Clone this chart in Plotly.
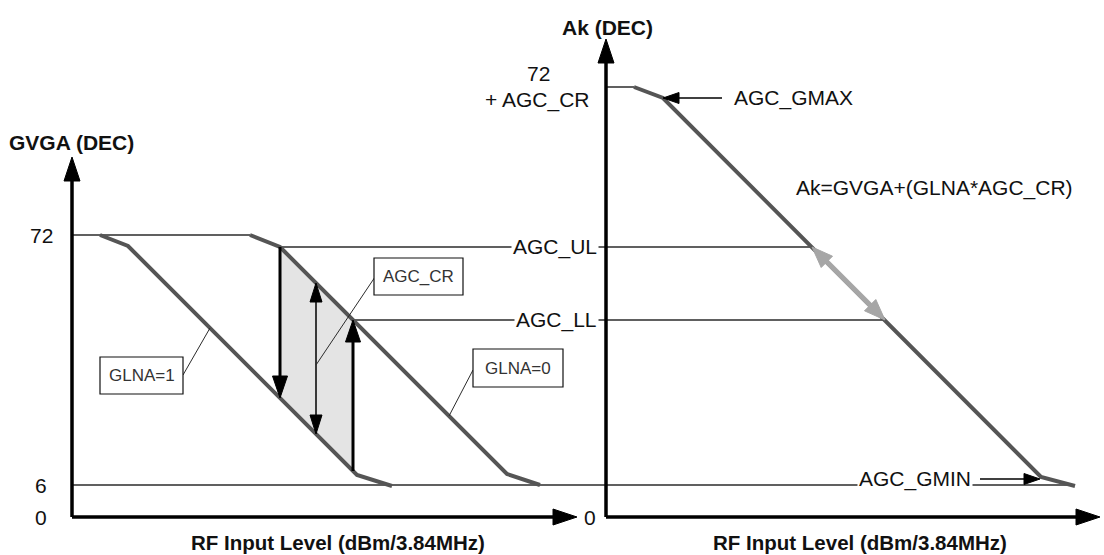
import math
import plotly.graph_objects as go

# --- chart data (schematic units, origin = left axes corner, 1 unit = 1 px) ---
GVGA_TICK_POS = [0, 32, 282]
GVGA_TICK_TEXT = ["0", "6", "72"]

# GVGA vs RF level, two LNA states
GLNA1_X = [28, 56, 285, 320]
GLNA1_Y = [282, 271, 42, 31]
GLNA0_X = [178, 208, 435, 468]
GLNA0_Y = [282, 270, 43, 32]

# Ak vs RF level (right panel)
AK_X = [562, 591, 969, 1003]
AK_Y = [430, 419, 40, 31]

# threshold levels
LEVEL_72 = 282
LEVEL_6 = 32
LEVEL_UL = 270
LEVEL_LL = 197
AK_TOP = 430

# axes positions
LEFT_AXIS_X = 0
RIGHT_AXIS_X = 534
AXIS_TOP_LEFT = 360
AXIS_TOP_RIGHT = 478
X_AXIS_END_LEFT = 505
X_AXIS_END_RIGHT = 1028

FONT = "Liberation Sans, Arial, sans-serif"
C = {
    'axis': '#000000',
    'curve': '#555555',
    'level': '#2b2b2b',
    'shade': '#e4e4e4',
    'grey_arrow': '#a6a6a6',
    'text': '#111111',
    'boxtext': '#333333',
}

fig = go.Figure()


def add_line(xs, ys, color, width):
    fig.add_trace(go.Scatter(x=xs, y=ys, mode='lines', line=dict(color=color, width=width),
                             hoverinfo='skip', showlegend=False))


def add_head(xt, yt, ux, uy, color, hl, hw):
    nx, ny = -uy, ux
    bx, by = xt - ux * hl, yt - uy * hl
    fig.add_trace(go.Scatter(
        x=[xt, bx + nx * hw / 2, bx - nx * hw / 2, xt],
        y=[yt, by + ny * hw / 2, by - ny * hw / 2, yt],
        mode='lines', fill='toself', fillcolor=color,
        line=dict(color=color, width=1), hoverinfo='skip', showlegend=False))


def add_arrow(x0, y0, x1, y1, color, width, hl, hw, both=False):
    d = math.hypot(x1 - x0, y1 - y0)
    ux, uy = (x1 - x0) / d, (y1 - y0) / d
    sx0, sy0 = (x0 + ux * hl * 0.8, y0 + uy * hl * 0.8) if both else (x0, y0)
    add_line([sx0, x1 - ux * hl * 0.8], [sy0, y1 - uy * hl * 0.8], color, width)
    add_head(x1, y1, ux, uy, color, hl, hw)
    if both:
        add_head(x0, y0, -ux, -uy, color, hl, hw)


def gl1(x):
    return GLNA1_Y[1] - (x - GLNA1_X[1])


def gl0(x):
    return GLNA0_Y[1] - (x - GLNA0_X[1])


def ak(y):
    return AK_X[1] + (AK_Y[1] - y)


ul_x0 = GLNA0_X[1]
ll_x0 = GLNA0_X[1] + (LEVEL_UL - LEVEL_LL)

# shaded hysteresis region
fig.add_trace(go.Scatter(
    x=[ul_x0, ll_x0, ll_x0, ul_x0, ul_x0],
    y=[LEVEL_UL, LEVEL_LL, gl1(ll_x0), gl1(ul_x0), LEVEL_UL],
    mode='lines', fill='toself', fillcolor=C['shade'], line=dict(width=0),
    hoverinfo='skip', showlegend=False))

# horizontal level lines
add_line([0, GLNA0_X[0]], [LEVEL_72, LEVEL_72], C['level'], 1.5)
add_line([ul_x0, ak(LEVEL_UL)], [LEVEL_UL, LEVEL_UL], C['level'], 1.5)
add_line([ll_x0, ak(LEVEL_LL)], [LEVEL_LL, LEVEL_LL], C['level'], 1.5)
add_line([0, AK_X[-1] - 3], [LEVEL_6, LEVEL_6], C['level'], 1.5)
add_line([RIGHT_AXIS_X, AK_X[0]], [AK_TOP, AK_TOP], C['level'], 1.5)

# curves
add_line(GLNA1_X, GLNA1_Y, C['curve'], 4)
add_line(GLNA0_X, GLNA0_Y, C['curve'], 4)
add_line(AK_X, AK_Y, C['curve'], 4)

# axes
add_arrow(LEFT_AXIS_X, 0, LEFT_AXIS_X, AXIS_TOP_LEFT, C['axis'], 3.5, 24, 16)
add_arrow(LEFT_AXIS_X, 0, X_AXIS_END_LEFT, 0, C['axis'], 3.5, 24, 16)
add_arrow(RIGHT_AXIS_X, 0, RIGHT_AXIS_X, AXIS_TOP_RIGHT, C['axis'], 3.5, 24, 16)
add_arrow(RIGHT_AXIS_X, 0, X_AXIS_END_RIGHT, 0, C['axis'], 3.5, 24, 16)

# hysteresis arrows
add_arrow(ul_x0, LEVEL_UL, ul_x0, gl1(ul_x0), C['axis'], 3, 22, 15)
add_arrow(ll_x0, gl1(ll_x0), ll_x0, LEVEL_LL, C['axis'], 3, 22, 15)
cr_x = 244
add_arrow(cr_x, gl1(cr_x), cr_x, gl0(cr_x), C['axis'], 1.5, 19, 12, both=True)

# right panel arrows
add_arrow(ak(LEVEL_UL), LEVEL_UL, ak(LEVEL_LL), LEVEL_LL, C['grey_arrow'], 5, 21, 16, both=True)
add_arrow(650, AK_Y[1], AK_X[1], AK_Y[1], C['axis'], 1.5, 16, 11)
add_arrow(908, 38, AK_X[2] - 1, 38, C['axis'], 1.5, 16, 11)

# leader lines for boxed labels
add_line([303, cr_x], [240, 152], C['level'], 1)
add_line([401, 377], [147, gl0(377)], C['level'], 1)
add_line([111, 138], [142, gl1(138)], C['level'], 1)

shapes = []
for x0, x1, y0, y1 in [(302, 391, 222, 259), (401, 491, 130, 168), (28, 111, 123, 160)]:
    shapes.append(dict(type='rect', xref='x', yref='y', x0=x0, x1=x1, y0=y0, y1=y1,
                       line=dict(color='#111111', width=1.2), fillcolor='white', layer='above'))


def label(x, y, text, size=21, bold=False, anchor='center', bg=None, color=None):
    fig.add_annotation(x=x, y=y, xref='x', yref='y', text=f"<b>{text}</b>" if bold else text,
                       showarrow=False, xanchor=anchor, yanchor='middle',
                       font=dict(family=FONT, size=size, color=color or C['text']),
                       bgcolor=bg, borderpad=1)


for pos, txt in zip(GVGA_TICK_POS, GVGA_TICK_TEXT):
    label(-31, pos, txt)
label(518, 0, "0")
label(466, 444, "72")
label(465, 417, "+ AGC_CR")
label(-1, 375, "GVGA (DEC)", bold=True)
label(535, 490, "Ak (DEC)", bold=True)
label(266, -25, "RF Input Level (dBm/3.84MHz)", size=20.5, bold=True)
label(788, -25, "RF Input Level (dBm/3.84MHz)", size=20.5, bold=True)
label(483, LEVEL_UL, "AGC_UL", bg='white')
label(484, LEVEL_LL, "AGC_LL", bg='white')
label(843, 38, "AGC_GMIN", bg='white')
label(660, AK_Y[1], "AGC_GMAX", anchor='left')
label(862, 329, "Ak=GVGA+(GLNA*AGC_CR)")
label(346.5, 240.5, "AGC_CR", size=17, color=C['boxtext'])
label(446, 149, "GLNA=0", size=17, color=C['boxtext'])
label(69.5, 141.5, "GLNA=1", size=17, color=C['boxtext'])

fig.update_layout(
    width=1104, height=555,
    margin=dict(l=0, r=0, t=0, b=0),
    paper_bgcolor='white', plot_bgcolor='white',
    shapes=shapes,
    showlegend=False,
    xaxis=dict(range=[-72, 1032], visible=False, fixedrange=True),
    yaxis=dict(range=[-38, 517], visible=False, fixedrange=True),
)

fig.write_html("out.html", config={'displayModeBar': False},
               post_script="document.body.style.margin='0';")
